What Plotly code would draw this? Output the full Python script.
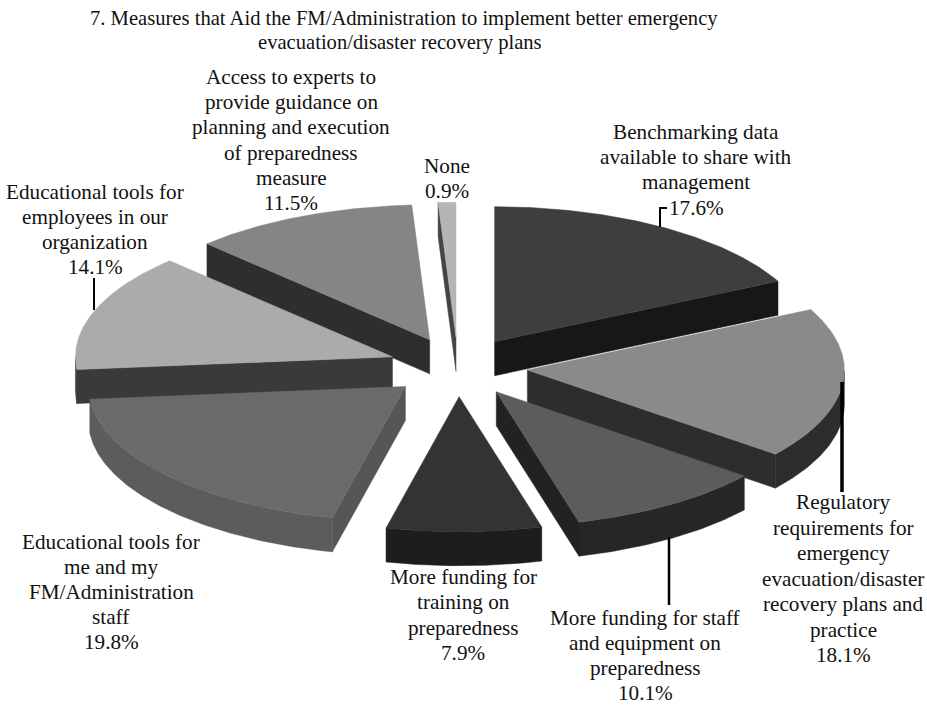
import math
import plotly.graph_objects as go

# Data
categories = [
    ["Benchmarking data", "available to share with", "management"],
    ["Regulatory", "requirements for", "emergency", "evacuation/disaster", "recovery plans and", "practice"],
    ["More funding for staff", "and equipment on", "preparedness"],
    ["More funding for", "training on", "preparedness"],
    ["Educational tools for", "me and my", "FM/Administration", "staff"],
    ["Educational tools for", "employees in our", "organization"],
    ["Access to experts to", "provide guidance on", "planning and execution", "of preparedness", "measure"],
    ["None"],
]
values = [17.6, 18.1, 10.1, 7.9, 19.8, 14.1, 11.5, 0.9]
title_lines = ["7. Measures that Aid the FM/Administration to implement better emergency",
               "evacuation/disaster recovery plans"]

# Style
top_colors = ["#3e3e3e", "#8a8a8a", "#5c5c5c", "#333333", "#6a6a6a", "#ababab", "#858585", "#b5b5b5"]
wall_colors = ["#171717", "#2d2d2d", "#222222", "#1d1d1d", "#565656", "#3a3a3a", "#2e2e2e", "#444444"]
rim_colors = ["#171717", "#2d2d2d", "#262626", "#1d1d1d", "#5c5c5c", "#3a3a3a", "#2e2e2e", "#444444"]
CX, CY, RX, RY, PULL, DEPTH = 458, 367, 317, 135, 0.22, 34
TITLE_FONT = dict(family="Liberation Serif", size=20.6, color="#111111")
FONT = dict(family="Liberation Serif", size=21.2, color="#111111")
label_pos = [(696, 132, 25.2), (843, 502, 25.5), (645, 618, 25), (463, 577, 25.3), (111, 542, 25),
             (95, 192, 25), (291, 77, 25.2), (447, 166, 25)]
leaders = [([667, 660, 660], [208, 208, 227], 2), ([842, 842], [382, 492], 3.5),
           ([669, 669], [537, 605], 2.5), ([94, 94], [278, 310], 2)]


def pt(a_deg, r, ox, oy):
    a = math.radians(a_deg)
    return ox + RX * r * math.sin(a), oy - RY * r * math.cos(a)


def poly(fig, pts, color):
    fig.add_trace(go.Scatter(x=[p[0] for p in pts] + [pts[0][0]], y=[p[1] for p in pts] + [pts[0][1]],
                             mode="lines", fill="toself", fillcolor=color,
                             line=dict(color=color, width=0.5), hoverinfo="skip", showlegend=False))


total = sum(values)
slices = []
cum = 0.0
for i, v in enumerate(values):
    a0 = cum / total * 360
    cum += v
    a1 = cum / total * 360
    mid = math.radians((a0 + a1) / 2)
    ox = CX + RX * PULL * math.sin(mid)
    oy = CY - RY * PULL * math.cos(mid)
    slices.append((oy, i, a0, a1, ox))

fig = go.Figure()
for oy, i, a0, a1, ox in sorted(slices):
    n = max(3, int((a1 - a0) * 2))
    arc = [pt(a0 + (a1 - a0) * k / n, 1, ox, oy) for k in range(n + 1)]
    drop = lambda pts: [(x, y + DEPTH) for x, y in pts]
    if math.sin(math.radians(a0)) < -1e-6:
        poly(fig, [(ox, oy), arc[0], drop([arc[0]])[0], (ox, oy + DEPTH)], wall_colors[i])
    if math.sin(math.radians(a1)) > 1e-6:
        poly(fig, [(ox, oy), arc[-1], drop([arc[-1]])[0], (ox, oy + DEPTH)], wall_colors[i])
    rim = [(a0 + (a1 - a0) * k / n) for k in range(n + 1)]
    front = [a for a in rim if math.cos(math.radians(a)) <= 0]
    if len(front) > 1:
        f = [pt(a, 1, ox, oy) for a in front]
        poly(fig, f + drop(f)[::-1], rim_colors[i])
    poly(fig, [(ox, oy)] + arc, top_colors[i])

for xs, ys, w in leaders:
    fig.add_trace(go.Scatter(x=xs, y=ys, mode="lines", line=dict(color="black", width=w),
                             hoverinfo="skip", showlegend=False))

annotations = []


def put(text, x, y, font=FONT):
    annotations.append(dict(text=text, x=x, y=y, xref="x", yref="y", showarrow=False,
                            xanchor="center", yanchor="middle", font=font))


put(title_lines[0], 404, 18, TITLE_FONT)
put(title_lines[1], 400, 42, TITLE_FONT)
for i, lines in enumerate(categories):
    x, y, lh = label_pos[i]
    for k, line in enumerate(lines + [f"{values[i]:.1f}%"]):
        put(line, x, y + k * lh)

fig.update_layout(width=927, height=706, margin=dict(l=0, r=0, t=0, b=0),
                  paper_bgcolor="white", plot_bgcolor="white",
                  xaxis=dict(range=[0, 927], visible=False, fixedrange=True),
                  yaxis=dict(range=[706, 0], visible=False, fixedrange=True),
                  annotations=annotations)
fig.write_html("out.html", config=dict(displayModeBar=False),
               post_script="document.body.style.margin='0';document.documentElement.style.overflow='hidden';")
